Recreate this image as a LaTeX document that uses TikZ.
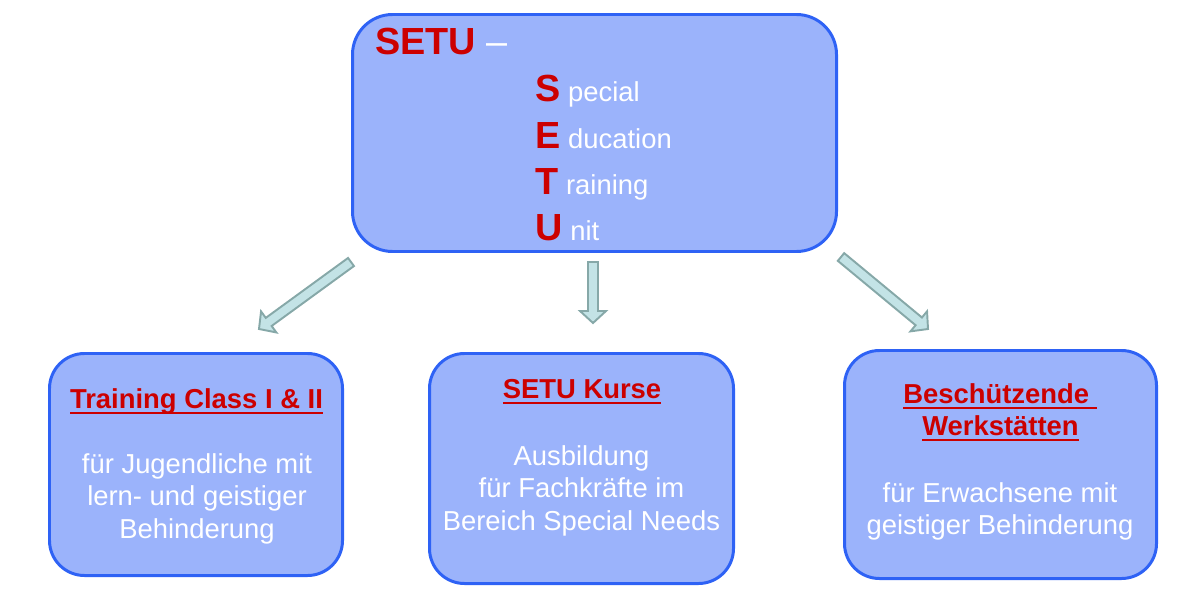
\documentclass[tikz,border=0pt]{standalone}
\usepackage{fontspec}
\setmainfont{Liberation Sans}
\usepackage{xcolor}
\usetikzlibrary{calc}

\definecolor{boxblau}{RGB}{155,179,251}
\definecolor{randblau}{RGB}{46,98,245}
\definecolor{setured}{RGB}{204,0,0}
\definecolor{pfeilfuell}{RGB}{195,227,230}
\definecolor{pfeilrand}{RGB}{134,168,168}

\newcommand{\unterstrich}[1]{\setbox0\hbox{#1}\rlap{\rule[-3.4pt]{\wd0}{1.2pt}}\box0}
\newcommand{\rotgross}[1]{{\color{setured}\fontsize{21.5}{24}\selectfont\bfseries #1}}

\tikzset{
  kasten/.style={draw=randblau, fill=boxblau, line width=1.7pt, rounded corners=0.7cm},
  weiss/.style={text=white, font=\fontsize{15.6}{18.5}\selectfont, align=center, inner sep=0pt},
  rottitel/.style={text=setured, font=\fontsize{15.6}{18.5}\selectfont\bfseries, inner sep=0pt},
  pfeil/.style={draw=pfeilrand, fill=pfeilfuell, line width=1.1pt, line join=miter}
}

\begin{document}
\begin{tikzpicture}
\useasboundingbox (0,0) rectangle (24,12);

% Top box
\node[kasten, rounded corners=0.8cm, minimum width=9.68cm, minimum height=4.74cm] (setu) at (11.89,9.34) {};
\node[anchor=base west, inner sep=0pt, text=setured, font=\fontsize{21.5}{24}\selectfont\bfseries] (kopf) at (7.5,10.9) {SETU \textcolor{white}{\mdseries --}};
\node[weiss, anchor=base west] (zs) at (10.7,9.96) {\rotgross{S}\ pecial};
\node[weiss, anchor=base west] (ze) at (10.7,9.04) {\rotgross{E}\ ducation};
\node[weiss, anchor=base west] (zt) at (10.7,8.12) {\rotgross{T}\ raining};
\node[weiss, anchor=base west] (zu) at (10.7,7.20) {\rotgross{U}\ nit};

% Bottom boxes
\node[kasten, minimum width=5.86cm, minimum height=4.44cm] (training) at (3.92,2.71) {};
\node[kasten, minimum width=6.08cm, minimum height=4.60cm] (kurse) at (11.63,2.63) {};
\node[kasten, minimum width=6.24cm, minimum height=4.56cm] (werk) at (20.01,2.71) {};

% Training Class
\node[rottitel, anchor=base] (trainingtitel) at (3.93,3.84) {\unterstrich{Training Class I \& II}};
\node[weiss, anchor=north] (trainingtext) at (3.94,2.94) {für Jugendliche mit\\lern- und geistiger\\Behinderung};

% SETU Kurse
\node[rottitel, anchor=base] (kursetitel) at (11.64,4.04) {\unterstrich{SETU Kurse}};
\node[weiss, anchor=north] (kursetext) at (11.63,3.10) {Ausbildung\\für Fachkräfte im\\Bereich Special Needs};

% Werkstaetten
\node[rottitel, anchor=base] (werktitel) at (20.0,3.94) {\unterstrich{Beschützende\ }};
\node[rottitel, anchor=base] (werktitelb) at (20.01,3.30) {\unterstrich{Werkstätten}};
\node[weiss, anchor=north] (werktext) at (20.0,2.36) {für Erwachsene mit\\geistiger Behinderung};

% Block arrows
\coordinate (l1) at (7.02,6.76); \coordinate (l2) at (5.18,5.42);
\coordinate (m1) at (11.86,6.76); \coordinate (m2) at (11.86,5.54);
\coordinate (r1) at (16.82,6.86); \coordinate (r2) at (18.56,5.42);
\draw[pfeil] ($(l1)!0.1cm!90:(l2)$) -- ($(l2)!0.26cm!-22.62:(l1)$) -- ($(l2)!0.3538cm!-47.29:(l1)$) -- (l2)
  -- ($(l2)!0.3538cm!47.29:(l1)$) -- ($(l2)!0.26cm!22.62:(l1)$) -- ($(l1)!0.1cm!-90:(l2)$) -- cycle;
\draw[pfeil] ($(m1)!0.1cm!90:(m2)$) -- ($(m2)!0.26cm!-22.62:(m1)$) -- ($(m2)!0.3538cm!-47.29:(m1)$) -- (m2)
  -- ($(m2)!0.3538cm!47.29:(m1)$) -- ($(m2)!0.26cm!22.62:(m1)$) -- ($(m1)!0.1cm!-90:(m2)$) -- cycle;
\draw[pfeil] ($(r1)!0.1cm!90:(r2)$) -- ($(r2)!0.26cm!-22.62:(r1)$) -- ($(r2)!0.3538cm!-47.29:(r1)$) -- (r2)
  -- ($(r2)!0.3538cm!47.29:(r1)$) -- ($(r2)!0.26cm!22.62:(r1)$) -- ($(r1)!0.1cm!-90:(r2)$) -- cycle;
\end{tikzpicture}
\end{document}
